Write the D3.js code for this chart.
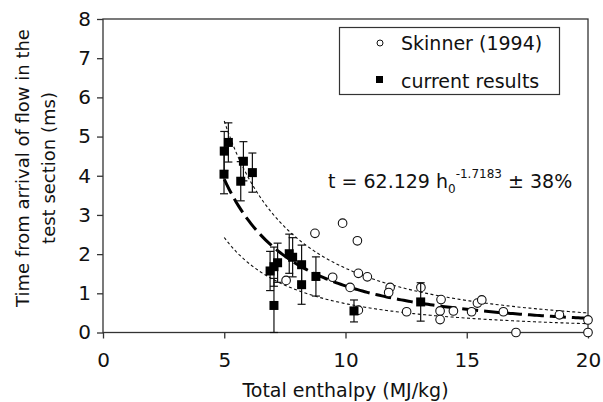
<!DOCTYPE html>
<html>
<head>
<meta charset="utf-8">
<script src="https://cdn.jsdelivr.net/npm/d3@7"></script>
<style>
  body { margin: 0; background: #fff; }
  svg { display: block; font-family: "DejaVu Sans", Verdana, sans-serif; }
</style>
</head>
<body>
<div id="chart"></div>
<script>
// Skinner (1994) points: [enthalpy, time]
const skinnerH = [7.55, 8.74, 9.88, 10.49, 9.47, 10.53, 10.9, 10.19, 11.84, 11.78, 13.11,
                  10.53, 12.52, 13.94, 13.9, 13.9, 14.45, 15.2, 15.44, 15.62, 16.51, 17.03, 18.82, 20.0, 20.0];
const skinnerT = [1.33, 2.53, 2.79, 2.34, 1.41, 1.51, 1.42, 1.15, 1.15, 1.02, 1.15,
                  0.57, 0.53, 0.84, 0.55, 0.33, 0.55, 0.53, 0.75, 0.83, 0.53, 0.0, 0.45, 0.32, 0.0];

// current results with error bar half-widths
const currentH = [4.99, 5.0, 5.17, 5.79, 5.68, 6.16, 6.89, 7.05, 7.2, 7.68, 7.82, 8.19, 8.19, 8.78, 7.05, 10.35, 13.1];
const currentT = [4.04, 4.63, 4.85, 4.37, 3.86, 4.08, 1.57, 1.68, 1.78, 2.01, 1.92, 1.73, 1.22, 1.43, 0.69, 0.55, 0.78];
const currentErr = [0.5, 0.5, 0.5, 0.5, 0.5, 0.5, 0.5, 0.5, 0.5, 0.5, 0.5, 0.5, 0.5, 0.5, 0.69, 0.28, 0.49];

// fit t = A * h^B, band +/- 38%
const fitA = 62.129;
const fitB = -1.7183;
const fitBand = 0.38;
const fitRange = [5, 20];

const xTicks = [0, 5, 10, 15, 20];
const yTicks = [0, 1, 2, 3, 4, 5, 6, 7, 8];

const width = 603, height = 402;
const margin = { left: 103, right: 15, top: 19, bottom: 70 };

const svg = d3.select("#chart").append("svg")
    .attr("width", width)
    .attr("height", height);

const x = d3.scaleLinear().domain([0, 20]).range([margin.left, width - margin.right]);
const y = d3.scaleLinear().domain([0, 8]).range([height - margin.bottom + 0.5, margin.top]);

// frame
svg.append("rect")
    .attr("x", x(0)).attr("y", y(8))
    .attr("width", x(20) - x(0)).attr("height", y(0) - y(8))
    .style("fill", "none").style("stroke", "#333").style("stroke-width", 1.3);

// axes
const xAxis = svg.append("g")
    .attr("transform", `translate(0,${y(0)})`)
    .call(d3.axisBottom(x).tickValues(xTicks).tickSize(6).tickPadding(14).tickSizeOuter(0));
const yAxis = svg.append("g")
    .attr("transform", `translate(${x(0)},0)`)
    .call(d3.axisLeft(y).tickValues(yTicks).tickSize(6).tickPadding(6).tickSizeOuter(0));

[xAxis, yAxis].forEach(g => {
    g.select(".domain").remove();
    g.selectAll("line").style("stroke", "#333").style("stroke-width", 1.3);
    g.selectAll("text").style("font-size", "20px").style("fill", "#111")
        .style("font-family", '"DejaVu Sans", Verdana, sans-serif');
});

// axis titles
svg.append("text")
    .attr("x", x(10)).attr("y", 397)
    .style("text-anchor", "middle").style("font-size", "19px").style("fill", "#111")
    .text("Total enthalpy (MJ/kg)");

const yTitle = svg.append("text")
    .attr("transform", "rotate(-90)")
    .style("text-anchor", "middle").style("font-size", "18px").style("fill", "#111");
yTitle.append("tspan").attr("x", -168).attr("y", 29).text("Time from arrival of flow in the");
yTitle.append("tspan").attr("x", -168).attr("y", 55).text("test section (ms)");

// fit curves
const hs = d3.range(fitRange[0], fitRange[1] + 0.001, 0.1);
const fit = h => fitA * Math.pow(h, fitB);
const line = d3.line().x(h => x(h));

svg.append("path")
    .attr("d", line.y(h => y(fit(h) * (1 + fitBand)))(hs))
    .style("fill", "none").style("stroke", "#111").style("stroke-width", 1.1)
    .style("stroke-dasharray", "3,2.5");
svg.append("path")
    .attr("d", line.y(h => y(fit(h) * (1 - fitBand)))(hs))
    .style("fill", "none").style("stroke", "#111").style("stroke-width", 1.1)
    .style("stroke-dasharray", "3,2.5");
svg.append("path")
    .attr("d", line.y(h => y(fit(h)))(hs))
    .style("fill", "none").style("stroke", "#000").style("stroke-width", 3)
    .style("stroke-dasharray", "16,6");

// Skinner circles
svg.append("g").selectAll("circle")
    .data(skinnerH.map((h, i) => [h, skinnerT[i]]))
    .join("circle")
    .attr("cx", d => x(d[0]))
    .attr("cy", d => y(d[1]))
    .attr("r", 4.3)
    .style("fill", "#fff").style("stroke", "#111").style("stroke-width", 1.1);

// current results: error bars + squares
const cur = currentH.map((h, i) => ({ h, t: currentT[i], e: currentErr[i] }));
const eb = svg.append("g").style("stroke", "#111").style("stroke-width", 1.2);
eb.selectAll("line.v").data(cur).join("line").attr("class", "v")
    .attr("x1", d => x(d.h)).attr("x2", d => x(d.h))
    .attr("y1", d => y(d.t + d.e)).attr("y2", d => y(Math.max(0, d.t - d.e)));
eb.selectAll("line.top").data(cur).join("line").attr("class", "top")
    .attr("x1", d => x(d.h) - 4).attr("x2", d => x(d.h) + 4)
    .attr("y1", d => y(d.t + d.e)).attr("y2", d => y(d.t + d.e));
eb.selectAll("line.bot").data(cur).join("line").attr("class", "bot")
    .attr("x1", d => x(d.h) - 4).attr("x2", d => x(d.h) + 4)
    .attr("y1", d => y(Math.max(0, d.t - d.e))).attr("y2", d => y(Math.max(0, d.t - d.e)));

const sq = 9;
svg.append("g").selectAll("rect")
    .data(cur)
    .join("rect")
    .attr("x", d => x(d.h) - sq / 2)
    .attr("y", d => y(d.t) - sq / 2)
    .attr("width", sq).attr("height", sq)
    .style("fill", "#000");

// legend
const legend = svg.append("g");
legend.append("rect")
    .attr("x", 339.5).attr("y", 27.5).attr("width", 220).attr("height", 67)
    .style("fill", "#fff").style("stroke", "#333").style("stroke-width", 1.2);
legend.append("circle").attr("cx", 380).attr("cy", 43).attr("r", 3)
    .style("fill", "#fff").style("stroke", "#111").style("stroke-width", 1);
legend.append("rect").attr("x", 376).attr("y", 76).attr("width", 7).attr("height", 7)
    .style("fill", "#000");
legend.append("text").attr("x", 401).attr("y", 50)
    .style("font-size", "19px").style("fill", "#111").text("Skinner (1994)");
legend.append("text").attr("x", 401).attr("y", 88)
    .style("font-size", "19px").style("fill", "#111").text("current results");

// equation
const eq = svg.append("text").attr("x", 328).attr("y", 188)
    .style("font-size", "19px").style("fill", "#111");
eq.append("tspan").text("t = 62.129 h");
eq.append("tspan").attr("dy", 5).style("font-size", "12px").text("0");
eq.append("tspan").attr("dy", -15).style("font-size", "12px").text("-1.7183");
eq.append("tspan").attr("dy", 10).text(" ± 38%");
</script>
</body>
</html>
